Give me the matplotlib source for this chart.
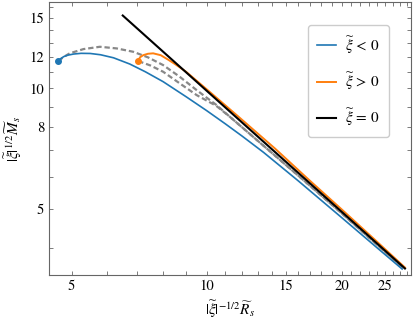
import matplotlib
matplotlib.use("Agg")
import matplotlib.pyplot as plt
from matplotlib.ticker import FixedLocator, NullFormatter, FixedFormatter

plt.rcParams['font.family'] = ['STIXGeneral', 'DejaVu Serif']
plt.rcParams['mathtext.fontset'] = 'stix'

# data
blue_x = [4.67, 4.72, 4.8, 4.9, 5.05, 5.25, 5.5, 5.8, 6.2, 6.74, 7.3, 8.0, 9.0, 10.0, 11.0, 12.0, 13.4, 16.0, 20.0, 24.0, 27.3]
blue_y = [11.7, 11.85, 12.0, 12.1, 12.18, 12.23, 12.22, 12.13, 11.92, 11.5, 11.0, 10.39, 9.53, 8.8, 8.16, 7.6, 6.92, 5.88, 4.76, 4.0, 3.54]

orange_x = [7.04, 7.1, 7.22, 7.4, 7.6, 7.9, 8.2, 8.5, 9.0, 10.0, 11.66, 14.2, 17.0, 20.0, 24.0, 27.7]
orange_y = [11.7, 11.95, 12.1, 12.2, 12.23, 12.1, 11.8, 11.5, 11.0, 9.95, 8.58, 7.08, 5.88, 4.99, 4.14, 3.57]

black_x = [6.5, 27.7]
black_y = [15.2, 3.55]

gray1_x = [4.67, 4.8, 4.95, 5.31, 5.78, 6.3, 6.86, 7.4, 8.0, 8.7, 9.5, 10.5, 11.27, 13.0, 16.0, 20.0, 24.0, 27.5]
gray1_y = [11.7, 11.98, 12.23, 12.53, 12.7, 12.58, 12.34, 11.95, 11.43, 10.7, 9.9, 9.1, 8.49, 7.4, 6.06, 4.88, 4.07, 3.56]

gray2_x = [7.04, 7.5, 8.0, 8.7, 9.5, 10.5, 11.27, 13.0, 16.0, 20.0, 24.0, 27.5]
gray2_y = [11.7, 11.4, 11.0, 10.3, 9.62, 9.05, 8.49, 7.4, 6.06, 4.88, 4.07, 3.56]

xticks = [5, 10, 15, 20, 25]
yticks = [5, 8, 10, 12, 15]

fig = plt.figure(figsize=(4.15, 3.27), dpi=100)
ax = fig.add_axes([0.118, 0.159, 0.872, 0.834])

gray = '#888888'
ax.plot(gray1_x, gray1_y, color=gray, lw=1.6, dashes=(2.4, 1.3), zorder=2)
ax.plot(gray2_x, gray2_y, color=gray, lw=1.6, dashes=(2.4, 1.3), zorder=2)
ax.plot(blue_x, blue_y, color='#1f77b4', lw=1.2, label=r'$\widetilde{\xi}\,<\,0$', zorder=3)
ax.plot(orange_x, orange_y, color='#ff7f0e', lw=1.4, label=r'$\widetilde{\xi}\,>\,0$', zorder=3)
ax.plot(black_x, black_y, color='black', lw=1.5, label=r'$\widetilde{\xi}\,=\,0$', zorder=4)
ax.plot(blue_x[0], blue_y[0], 'o', color='#1f77b4', ms=4, zorder=5)
ax.plot(orange_x[0], orange_y[0], 'o', color='#ff7f0e', ms=4, zorder=5)

ax.set_xscale('log')
ax.set_yscale('log')
ax.set_xlim(4.45, 28.55)
ax.set_ylim(3.42, 16.4)

ax.xaxis.set_major_locator(FixedLocator(xticks))
ax.xaxis.set_major_formatter(FixedFormatter([str(t) for t in xticks]))
ax.xaxis.set_minor_locator(FixedLocator([t for t in range(5, 29) if t not in xticks]))
ax.xaxis.set_minor_formatter(NullFormatter())
ax.yaxis.set_major_locator(FixedLocator(yticks))
ax.yaxis.set_major_formatter(FixedFormatter([str(t) for t in yticks]))
ax.yaxis.set_minor_locator(FixedLocator([t for t in range(4, 17) if t not in yticks]))
ax.yaxis.set_minor_formatter(NullFormatter())

spc = '#666666'
for s in ax.spines.values():
    s.set_color(spc)
    s.set_linewidth(0.8)
ax.tick_params(which='both', direction='in', top=True, right=True, length=3, width=0.6, color=spc, labelsize=10.5)

ax.set_xlabel(r'$|\widetilde{\xi}|^{-1/2}\widetilde{R}_s$', fontsize=11)
ax.set_ylabel(r'$|\widetilde{\xi}|^{1/2}\widetilde{M}_s$', fontsize=11)

leg = ax.legend(loc='upper right', fontsize=11, handlelength=1.2, labelspacing=0.95,
                borderpad=0.6, handletextpad=0.6, borderaxespad=0,
                bbox_to_anchor=(0.939, 0.917), framealpha=1)
leg.get_frame().set_edgecolor('#cccccc')

fig.savefig('out.png', dpi=100)
